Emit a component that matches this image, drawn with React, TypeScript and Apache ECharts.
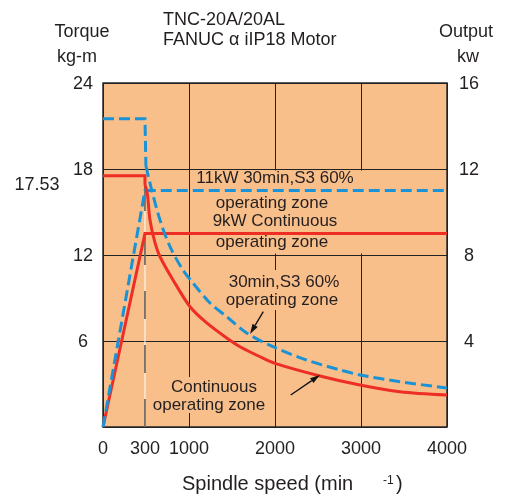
import React, { useEffect, useRef } from "react";
import * as echarts from "echarts";

// ---- data ----
const speedTicks = [0, 300, 1000, 2000, 3000, 4000];
const ratedTorque = 17.53;

// Torque curves (speed min^-1, kg-m) – left axis
const redTorqueFlat = [[0, 17.53], [300, 17.53], [300, 16.9]];
const redTorqueCurve = [
  [300, 16.9], [337, 16.3], [380, 14.44], [460, 12.84], [539, 11.88], [746, 10.26],
  [1012, 8.39], [1206, 7.26], [1438, 6.21], [1593, 5.6], [1826, 4.9], [2000, 4.44],
  [2523, 3.56], [2988, 2.93], [3453, 2.46], [4000, 2.23],
];
const blueTorqueFlat = [[0, 21.5], [300, 21.5], [315, 18.2]];
const blueTorqueCurve = [
  [315, 18.2], [407, 16.53], [539, 14.44], [698, 12.58], [904, 10.95], [1046, 10.05],
  [1244, 8.65], [1438, 7.7], [1671, 6.56], [1977, 5.6], [2369, 4.67], [2756, 3.98],
  [2988, 3.63], [3453, 3.16], [4000, 2.72],
];
// Output curves (speed, kW) – right axis
const redOutput = [[0, 0], [300, 9], [4000, 9]];
const blueOutput = [[0, 0], [300, 11], [4000, 11]];
const cornerLine = [[300, 0], [300, 17.53]];

// ---- non-linear speed axis (0-300 and 300-1000 segments are redrawn) ----
const BREAK_U = 488;
const toAxis = (s: number) =>
  s <= 300 ? (s / 300) * BREAK_U : s <= 1000 ? BREAK_U + ((s - 300) / 700) * (1000 - BREAK_U) : s;
const conv = (d: number[][]) => d.map(([s, v]) => [toAxis(s), v]);

const FONT = "Liberation Sans, Arial, Helvetica, sans-serif";
const TXT = "#231f20";
const BG = "#F9BF8B";
const RED = "#EE2E24";
const BLUE = "#1A93D6";

function arrow(x1: number, y1: number, x2: number, y2: number) {
  const ang = Math.atan2(y2 - y1, x2 - x1);
  const L = 10, W = 3;
  const bx = x2 - L * Math.cos(ang), by = y2 - L * Math.sin(ang);
  const px = -Math.sin(ang) * W, py = Math.cos(ang) * W;
  return [
    { type: "line", z: 5, shape: { x1, y1, x2: bx, y2: by }, style: { stroke: "#111", lineWidth: 1.3 } },
    { type: "polygon", z: 5, shape: { points: [[x2, y2], [bx + px, by + py], [bx - px, by - py]] }, style: { fill: "#111" } },
  ];
}

function txt(text: string, x: number, y: number, size: number, align = "center", bg?: string, extra: any = {}) {
  return {
    type: "text",
    z: 3,
    style: {
      text, x, y, align, verticalAlign: "middle", fontSize: size, fontFamily: FONT, fill: TXT,
      ...(bg ? { backgroundColor: bg, padding: [1, 3] } : {}),
      ...extra,
    },
  };
}

export default function App() {
  const ref = useRef<HTMLDivElement>(null);
  useEffect(() => {
    const chart = echarts.init(ref.current!, undefined, { renderer: "svg" });
    const line = (name: string, data: number[][], color: string, dashed: boolean, yAxisIndex: number, smooth: any = false, z = 2) => ({
      type: "line", name, data: conv(data), yAxisIndex, smooth, symbol: "none", silent: true, z,
      lineStyle: { color, width: 3, type: dashed ? [11, 5] : "solid", cap: "butt", join: "miter" },
    });
    chart.setOption({
      animation: false,
      grid: { left: 103, right: 62, top: 83, bottom: 70, show: true, backgroundColor: BG, borderColor: "#2a2a2a", borderWidth: 1.5 },
      xAxis: {
        type: "value", min: 0, max: 4000, interval: 1000,
        axisLine: { show: false }, axisTick: { show: false },
        splitLine: { show: true, lineStyle: { color: "#222", width: 1 } },
        axisLabel: {
          customValues: speedTicks.map(toAxis),
          formatter: (v: number) => {
            let best = speedTicks[0];
            for (const s of speedTicks) if (Math.abs(toAxis(s) - v) < Math.abs(toAxis(best) - v)) best = s;
            return String(best);
          },
          fontSize: 18, color: TXT, fontFamily: FONT, margin: 12,
        },
      },
      yAxis: [
        {
          type: "value", min: 0, max: 24, interval: 6, position: "left",
          axisLine: { show: false }, axisTick: { show: false },
          splitLine: { show: true, lineStyle: { color: "#222", width: 1 } },
          axisLabel: { fontSize: 18, color: TXT, fontFamily: FONT, margin: 20, align: "center", formatter: (v: number) => (v === 0 ? "" : String(v)) },
        },
        {
          type: "value", min: 0, max: 16, interval: 4, position: "right",
          axisLine: { show: false }, axisTick: { show: false }, splitLine: { show: false },
          axisLabel: { fontSize: 18, color: TXT, fontFamily: FONT, margin: 22, align: "center", formatter: (v: number) => (v === 0 ? "" : String(v)) },
        },
      ],
      series: [
        { type: "line", data: conv(cornerLine), yAxisIndex: 0, symbol: "none", silent: true, z: 2, lineStyle: { color: "#ffffff", width: 1 } },
        { type: "line", data: conv(cornerLine), yAxisIndex: 0, symbol: "none", silent: true, z: 2, lineStyle: { color: "#555", width: 1.5, type: [28, 26] } },
        line("Continuous output", redOutput, RED, false, 1),
        line("30min output", blueOutput, BLUE, true, 1),
        line("Continuous torque flat", redTorqueFlat, RED, false, 0),
        line("Continuous torque", redTorqueCurve, RED, false, 0, 0.3),
        line("30min torque flat", blueTorqueFlat, BLUE, true, 0),
        line("30min torque", blueTorqueCurve, BLUE, true, 0, 0.3),
      ],
      graphic: [
        { type: "rect", z: 1, shape: { x: 193, y: 170.5, width: 252, height: 83 }, style: { fill: BG } },
        { type: "rect", z: 1, shape: { x: 218, y: 270, width: 128, height: 40 }, style: { fill: BG } },
        { type: "rect", z: 1, shape: { x: 144, y: 377, width: 130, height: 36 }, style: { fill: BG } },
        txt("TNC-20A/20AL", 163, 19, 18, "left"),
        txt("FANUC \u03b1 iIP18 Motor", 163, 39, 18, "left"),
        txt("Torque", 82, 31, 18),
        txt("kg-m", 77, 56, 18),
        txt("Output", 466, 31, 18),
        txt("kw", 468, 56, 18),
        txt(String(ratedTorque), 37, 184, 18),
        txt("11kW 30min,S3 60%", 275, 177, 17),
        txt("operating zone", 272, 202, 17),
        txt("9kW Continuous", 275, 220, 17),
        txt("operating zone", 272, 241, 17),
        txt("30min,S3 60%", 284, 281.5, 17),
        txt("operating zone", 282, 299.5, 17),
        txt("Continuous", 214, 386, 17),
        txt("operating zone", 209, 404, 17),
        txt("Spindle speed (min", 182, 483, 20, "left"),
        txt("-1", 383, 480, 12, "left"),
        txt(")", 396, 483, 20, "left"),
        ...arrow(263.3, 311.7, 250, 334),
        ...arrow(290.7, 395, 320, 375),
      ],
    });
    return () => chart.dispose();
  }, []);
  return <div ref={ref} style={{ position: "fixed", left: 0, top: 0, width: 509, height: 497 }} />;
}
